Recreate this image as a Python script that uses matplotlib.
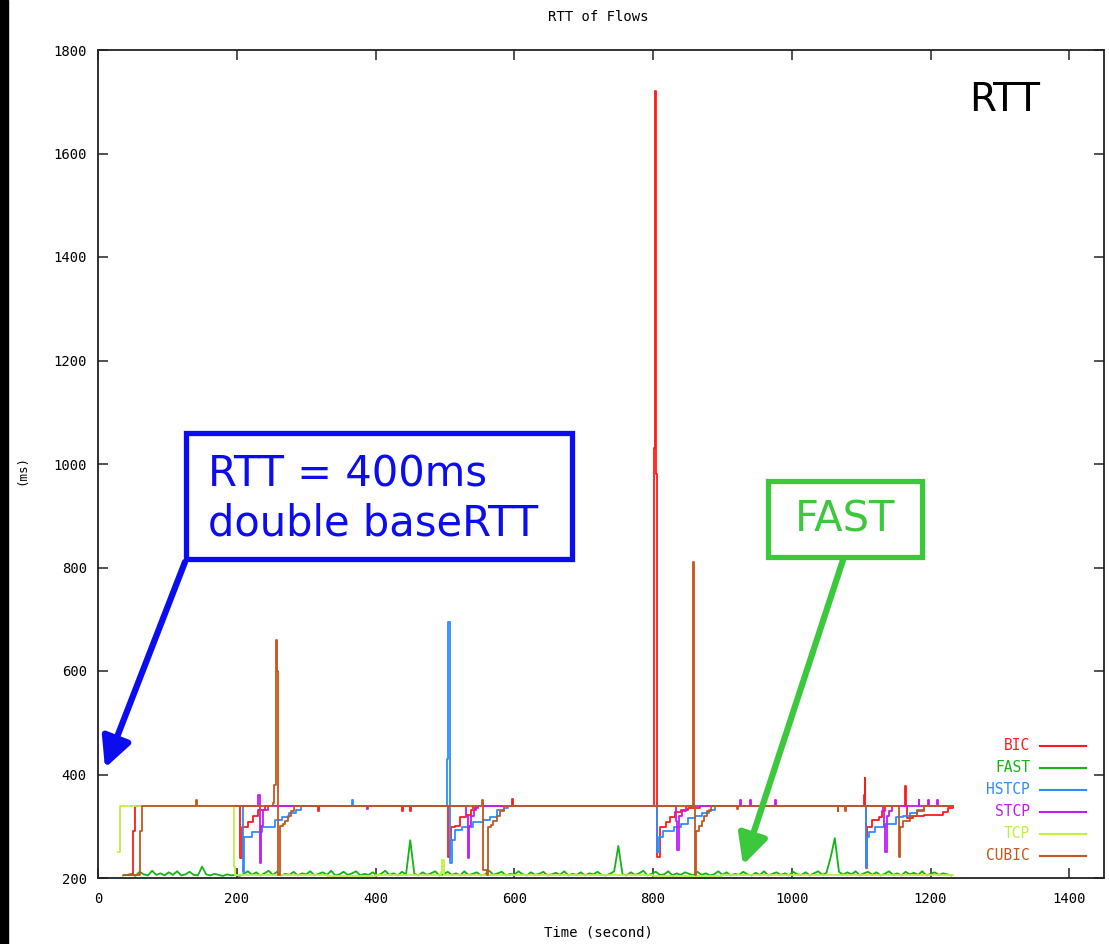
import numpy as np
import matplotlib
matplotlib.use('Agg')
import matplotlib.pyplot as plt
from matplotlib.patches import Rectangle

# ---- RTT samples per flow: (time [s], rtt [ms]) breakpoints ----

bic_t = [37, 47, 50, 53, 203, 204, 208, 216, 224, 231, 241, 316, 317, 318,
         437, 438, 439, 449, 450, 451, 503, 505, 507, 509, 515, 522, 530, 537,
         545, 596, 597, 598, 800, 802, 803, 804, 805, 806, 810, 818, 825, 832,
         840, 850, 868, 1102, 1104, 1105, 1106, 1107, 1109, 1115, 1125, 1130,
         1135, 1162, 1163, 1165, 1166, 1175, 1190, 1215, 1218, 1225, 1232]
bic_v = [205, 205, 290, 340, 340, 238, 298, 308, 320, 331, 340, 340, 330, 340,
         340, 330, 340, 340, 330, 340, 340, 240, 273, 298, 300, 318, 322, 331,
         340, 340, 352, 340, 340, 1030, 1720, 980, 340, 240, 298, 308, 318, 327,
         332, 336, 340, 340, 360, 393, 340, 220, 298, 312, 318, 330,
         340, 340, 378, 340, 316, 320, 322, 322, 328, 335, 340]

fast_t = list(range(36, 1232, 6))
fast_v = [205, 206, 208, 204, 212, 207, 205, 214, 206, 209, 205, 211, 206, 213, 205, 207, 212, 206, 205, 222,
          207, 205, 208, 206, 204, 207, 205, 206, 204, 208, 213, 206, 211, 205, 209, 214, 206, 212, 205, 208,
          206, 212, 205, 209, 207, 213, 205, 208, 211, 206, 214, 205, 207, 212, 206, 209, 213, 205, 208, 206,
          211, 205, 208, 214, 206, 209, 205, 212, 207, 273, 208, 205, 211, 206, 209, 213, 205, 207, 212, 206,
          209, 205, 213, 206, 208, 211, 205, 207, 214, 206, 209, 212, 205, 208, 206, 213, 207, 205, 211, 206,
          208, 212, 205, 207, 210, 206, 213, 205, 208, 206, 211, 205, 209, 207, 212, 206, 205, 208, 213, 262,
          207, 205, 211, 206, 209, 214, 205, 208, 212, 206, 207, 213, 205, 209, 206, 211, 208, 205, 212, 206,
          209, 205, 207, 213, 206, 211, 205, 208, 206, 212, 207, 205, 210, 206, 213, 205, 208, 211, 206, 209,
          205, 212, 207, 206, 211, 205, 209, 213, 206, 210, 240, 277, 212, 206, 211, 207, 213, 205, 209, 212,
          206, 211, 205, 208, 213, 206, 209, 205, 212, 207, 210, 206, 213, 205, 208, 211, 206, 209, 207, 205]

hstcp_t = [65, 208, 209, 211, 222, 237, 255, 265, 275, 285, 292, 365, 366, 367,
           501, 503, 504, 505, 506, 507, 508, 510, 515, 525, 540, 555, 565, 575,
           585, 591, 805, 806, 808, 815, 830, 840, 850, 860, 870, 880, 890,
           1106, 1107, 1108, 1112, 1120, 1135, 1150, 1160, 1170, 1180, 1190, 1232]
hstcp_v = [340, 340, 212, 280, 289, 299, 312, 318, 325, 332, 340, 340, 350, 340,
           340, 430, 600, 695, 695, 463, 229, 273, 293, 298, 308, 312, 318, 331,
           336, 340, 340, 250, 280, 290, 298, 305, 315, 320, 325, 332, 340,
           340, 221, 279, 289, 298, 305, 317, 320, 325, 332, 340, 340]

stcp_t = [65, 230, 231, 233, 235, 238, 245, 387, 388, 389, 528, 530, 533, 535,
          538, 542, 548, 830, 833, 835, 837, 842, 848, 925, 926, 927, 939, 940,
          941, 975, 976, 977, 1128, 1131, 1133, 1135, 1137, 1140, 1145, 1182,
          1183, 1184, 1196, 1197, 1198, 1209, 1210, 1211, 1232]
stcp_v = [340, 340, 360, 229, 300, 331, 340, 340, 333, 340, 340, 320, 239, 300,
          320, 335, 340, 340, 310, 255, 320, 330, 340, 340, 350, 340, 340, 350,
          340, 340, 350, 340, 340, 330, 300, 250, 320, 330, 340, 340,
          350, 340, 340, 350, 340, 340, 350, 340, 340]

tcp_t = [29, 31, 194, 196, 197, 260, 330, 400, 480, 494, 496, 498, 600, 700,
         800, 900, 1000, 1100, 1232]
tcp_v = [250, 340, 340, 221, 205, 206, 204, 206, 205, 212, 235, 206, 205, 206,
         204, 206, 205, 206, 205]

cubic_t = [38, 58, 60, 63, 140, 141, 142, 250, 252, 254, 256, 257, 258, 259,
           260, 262, 266, 270, 274, 278, 283, 539, 540, 541, 552, 553, 555, 560,
           562, 566, 570, 575, 580, 585, 855, 857, 858, 859, 860, 862, 866, 870,
           874, 878, 883, 920, 921, 922, 1065, 1066, 1067, 1076, 1077, 1078,
           1152, 1154, 1156, 1160, 1170, 1180, 1190, 1232]
cubic_v = [205, 205, 290, 340, 340, 350, 340, 340, 345, 380, 600, 660, 600, 340,
           205, 300, 305, 310, 320, 330, 340, 340, 333, 340, 340, 350, 215, 205,
           298, 303, 310, 320, 330, 340, 340, 575, 810, 340, 205, 290, 300, 310,
           320, 330, 340, 340, 333, 340, 340, 330, 340, 340, 330, 340,
           340, 240, 298, 310, 320, 330, 340, 340]

names = ['BIC', 'FAST', 'HSTCP', 'STCP', 'TCP', 'CUBIC']
colors = ['#ff1a1a', '#14b414', '#2c8cff', '#c21cf2', '#bef044', '#c4561e']

W, H = 1109, 944
fig = plt.figure(figsize=(W / 100, H / 100), dpi=100)
ax = fig.add_axes([98 / W, 66 / H, 1006 / W, 828 / H])

series = [(bic_t, bic_v), (fast_t, fast_v), (hstcp_t, hstcp_v),
          (stcp_t, stcp_v), (tcp_t, tcp_v), (cubic_t, cubic_v)]
for (t, v), name, c in zip(series, names, colors):
    ds = 'default' if name == 'FAST' else 'steps-post'
    ax.plot(t, v, color=c, lw=1.3, drawstyle=ds, label=name)

ax.set_xlim(0, 1450)
ax.set_ylim(200, 1800)
ax.set_xticks(np.arange(0, 1401, 200))
ax.set_yticks(np.arange(200, 1801, 200))
mono = 'DejaVu Sans Mono'
ax.tick_params(direction='in', top=True, right=True, length=7, width=1.1,
               labelsize=10, color='#222222')
ax.tick_params(axis='x', pad=10)
ax.tick_params(axis='y', pad=8)
for lab in ax.get_xticklabels() + ax.get_yticklabels():
    lab.set_family(mono)
for s in ax.spines.values():
    s.set_linewidth(1.3)
    s.set_color('#222222')

# gnuplot-style key: right-aligned coloured names, sample line to the right
for i, (name, c) in enumerate(zip(names, colors)):
    yk = (878 - (746 + 22 * i)) / 828
    ax.text((1030 - 98) / 1006, yk, name, transform=ax.transAxes, color=c,
            ha='right', va='center', family=mono, fontsize=10.5)
    ax.plot([(1040 - 98) / 1006, (1086 - 98) / 1006], [yk, yk],
            transform=ax.transAxes, color=c, lw=1.5, clip_on=False)

fig.text(598 / W, 1 - 17 / H, 'RTT of Flows', ha='center', va='center',
         family=mono, fontsize=10)
fig.text(598 / W, 1 - 932 / H, 'Time (second)', ha='center', va='center',
         family=mono, fontsize=10)
fig.text(22 / W, 1 - 470 / H, '(ms)', ha='center', va='center', rotation=90,
         family=mono, fontsize=9)

# black strip on the left edge
fig.patches.append(Rectangle((0, 0), 8 / W, 1, transform=fig.transFigure,
                             color='black', zorder=0))

fig.text(1005 / W, 1 - 100 / H, 'RTT', ha='center', va='center',
         fontsize=28, color='black')

blue = '#0c0cf0'
green = '#3cc83c'

fig.patches.append(Rectangle((186 / W, 1 - 559 / H), (572 - 186) / W,
                             (559 - 433) / H, transform=fig.transFigure,
                             fill=False, edgecolor=blue, lw=3.8, zorder=5))
fig.text(208 / W, 1 - 499 / H, 'RTT = 400ms\ndouble baseRTT', ha='left',
         va='center', fontsize=30, color=blue, linespacing=1.2)

fig.patches.append(Rectangle((768 / W, 1 - 557 / H), (922 - 768) / W,
                             (557 - 481) / H, transform=fig.transFigure,
                             fill=False, edgecolor=green, lw=3.8, zorder=5))
fig.text(845 / W, 1 - 520 / H, 'FAST', ha='center', va='center',
         fontsize=30, color=green)

arrow_style = '-|>,head_length=0.9,head_width=0.45'
ax.annotate('', xy=(105, H - 768), xytext=(185, H - 562),
            xycoords='figure pixels', textcoords='figure pixels',
            arrowprops=dict(arrowstyle=arrow_style, lw=4.5, color=blue,
                            shrinkA=0, shrinkB=0, mutation_scale=20))
ax.annotate('', xy=(743, H - 865), xytext=(843, H - 560),
            xycoords='figure pixels', textcoords='figure pixels',
            arrowprops=dict(arrowstyle=arrow_style, lw=4.5, color=green,
                            shrinkA=0, shrinkB=0, mutation_scale=20))

fig.savefig('out.png', dpi=100)
